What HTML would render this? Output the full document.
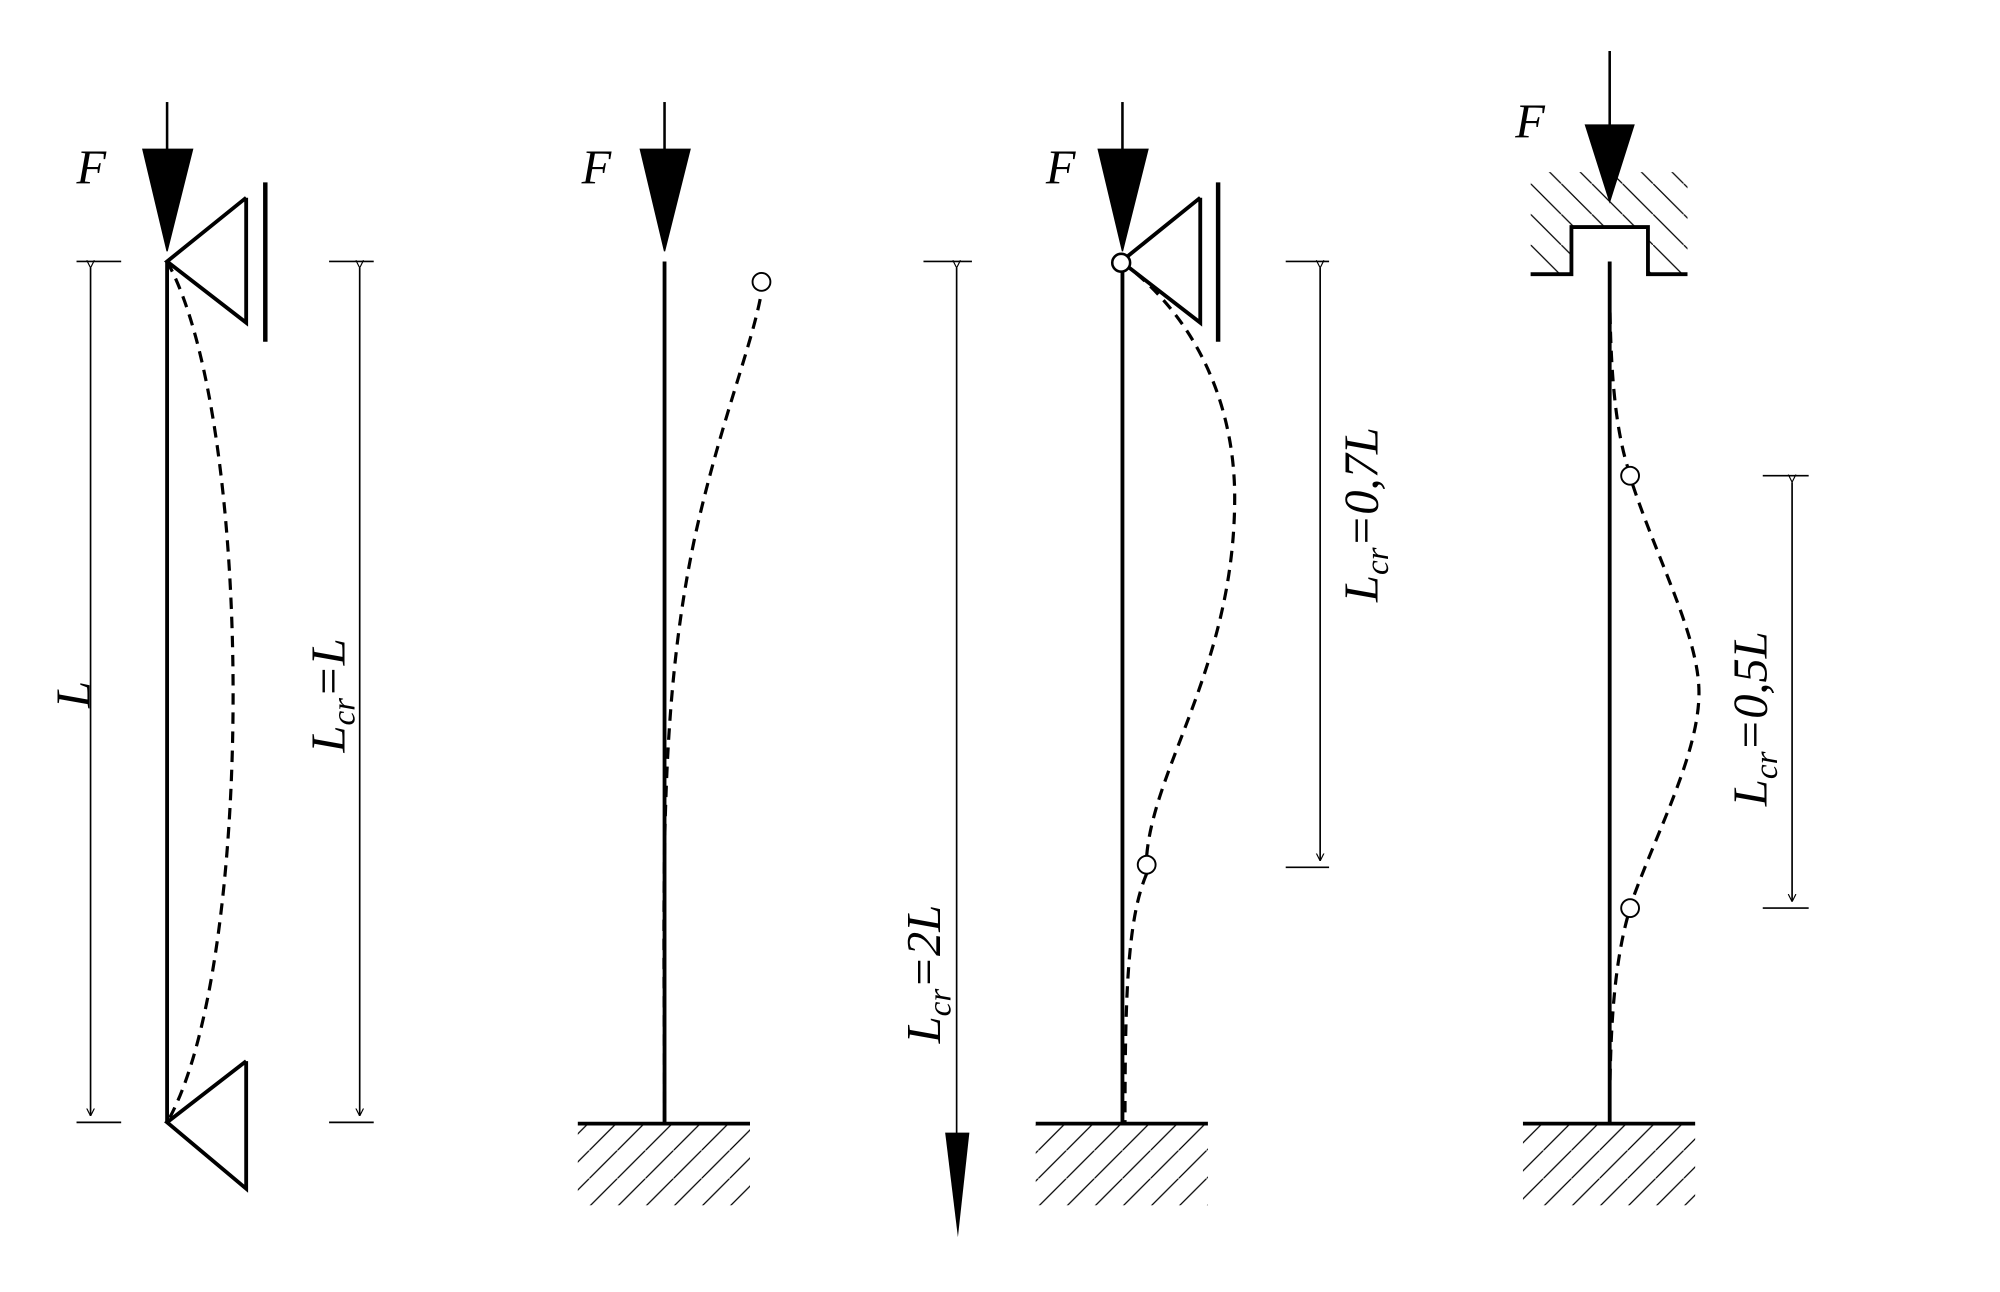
<!DOCTYPE html>
<html><head><meta charset="utf-8"><style>
html,body{margin:0;padding:0;background:#fff}
svg{display:block}
text{font-family:"Liberation Serif",serif;font-style:italic;fill:#000}
</style></head><body>
<svg width="2000" height="1292" viewBox="0 0 1568 1013" preserveAspectRatio="none" xmlns="http://www.w3.org/2000/svg">
<defs>
<marker id="a" viewBox="0 0 10 10" refX="10" refY="5" markerWidth="6" markerHeight="14" orient="auto" markerUnits="userSpaceOnUse"><path d="M0,0 L10,5 L0,10" fill="none" stroke="#000" stroke-width="1.5"/></marker>
<pattern id="h1" patternUnits="userSpaceOnUse" width="22" height="22"><path d="M-2,24 L24,-2" stroke="#000" stroke-width="1"/></pattern>
<pattern id="h2" patternUnits="userSpaceOnUse" width="24" height="24"><path d="M-2,-2 L26,26" stroke="#000" stroke-width="1"/></pattern>
</defs>
<g stroke="#000" fill="none">
<line x1="131" y1="205" x2="131" y2="880" stroke-width="3"/>
<line x1="131" y1="80" x2="131" y2="118" stroke-width="2"/>
<polygon points="112,117 151,117 131,197" fill="#000"/>
<polyline points="193,155 131,205 193,253 193,155" stroke-width="3"/>
<line x1="208" y1="143" x2="208" y2="268" stroke-width="3.5"/>
<polyline points="193,832 131,880 193,932 193,832" stroke-width="3"/>
<path d="M131,205 C200,330 200,760 131,880" stroke-width="2.5" stroke-dasharray="9,6"/>
<line x1="60" y1="205" x2="95" y2="205" stroke-width="1.3"/>
<line x1="60" y1="880" x2="95" y2="880" stroke-width="1.3"/>
<line x1="71" y1="210" x2="71" y2="875" stroke-width="1.3" marker-start="url(#a)" marker-end="url(#a)"/>
<line x1="258" y1="205" x2="293" y2="205" stroke-width="1.3"/>
<line x1="258" y1="880" x2="293" y2="880" stroke-width="1.3"/>
<line x1="282" y1="210" x2="282" y2="875" stroke-width="1.3" marker-start="url(#a)" marker-end="url(#a)"/>
<line x1="521" y1="205" x2="521" y2="880" stroke-width="3"/>
<line x1="521" y1="80" x2="521" y2="118" stroke-width="2"/>
<polygon points="502,117 541,117 521,197" fill="#000"/>
<rect x="453" y="882" width="135" height="63" fill="url(#h1)" stroke="none"/>
<line x1="453" y1="881" x2="588" y2="881" stroke-width="3"/>
<path d="M521,880 C521,700 515,560 545,420 C565,330 590,270 597,229" stroke-width="2.5" stroke-dasharray="9,6"/>
<circle cx="597" cy="221" r="7" fill="#fff" stroke-width="1.5"/>
<line x1="880" y1="205" x2="880" y2="880" stroke-width="3"/>
<line x1="880" y1="80" x2="880" y2="118" stroke-width="2"/>
<polygon points="861,117 900,117 880,197" fill="#000"/>
<polyline points="941,155 879,205 941,253 941,155" stroke-width="3"/>
<line x1="955" y1="143" x2="955" y2="268" stroke-width="3.5"/>
<path d="M879,205 C940,250 968,320 968,390 C968,520 905,600 899,671" stroke-width="2.5" stroke-dasharray="9,6"/>
<path d="M899,685 C884,720 882,780 882,880" stroke-width="2.5" stroke-dasharray="9,6"/>
<circle cx="879" cy="206" r="7" fill="#fff" stroke-width="2"/>
<circle cx="899" cy="678" r="7" fill="#fff" stroke-width="1.5"/>
<rect x="812" y="882" width="135" height="63" fill="url(#h1)" stroke="none"/>
<line x1="812" y1="881" x2="947" y2="881" stroke-width="3"/>
<line x1="1008" y1="205" x2="1042" y2="205" stroke-width="1.3"/>
<line x1="1008" y1="680" x2="1042" y2="680" stroke-width="1.3"/>
<line x1="1035" y1="210" x2="1035" y2="675" stroke-width="1.3" marker-start="url(#a)" marker-end="url(#a)"/>
<line x1="724" y1="205" x2="762" y2="205" stroke-width="1.3"/>
<line x1="750" y1="210" x2="750" y2="890" stroke-width="1.3" marker-start="url(#a)"/>
<polygon points="741,888 760,888 751,970" fill="#000" stroke="none"/>
<line x1="1262" y1="205" x2="1262" y2="880" stroke-width="3"/>
<line x1="1262" y1="40" x2="1262" y2="100" stroke-width="2"/>
<polygon points="1243,98 1281,98 1262,158" fill="#000"/>
<path d="M1200,135 H1323 V215 H1292 V178 H1232 V215 H1200 Z" fill="url(#h2)" stroke="none"/>
<polyline points="1200,215 1232,215 1232,178 1292,178 1292,215 1323,215" stroke-width="3"/>
<path d="M1262,215 C1262,280 1265,330 1276,366" stroke-width="2.5" stroke-dasharray="9,6"/>
<path d="M1280,380 C1300,440 1332,500 1332,543 C1332,590 1300,650 1280,705" stroke-width="2.5" stroke-dasharray="9,6"/>
<path d="M1276,719 C1265,760 1262,810 1262,880" stroke-width="2.5" stroke-dasharray="9,6"/>
<circle cx="1278" cy="373" r="7" fill="#fff" stroke-width="1.5"/>
<circle cx="1278" cy="712" r="7" fill="#fff" stroke-width="1.5"/>
<rect x="1194" y="882" width="135" height="63" fill="url(#h1)" stroke="none"/>
<line x1="1194" y1="881" x2="1329" y2="881" stroke-width="3"/>
<line x1="1382" y1="373" x2="1418" y2="373" stroke-width="1.3"/>
<line x1="1382" y1="712" x2="1418" y2="712" stroke-width="1.3"/>
<line x1="1405" y1="378" x2="1405" y2="707" stroke-width="1.3" marker-start="url(#a)" marker-end="url(#a)"/>
</g>
<g font-size="38">
<text x="60" y="144">F</text>
<text x="456" y="144">F</text>
<text x="820" y="144">F</text>
<text x="1188" y="108">F</text>
<text transform="translate(70,555) rotate(-90)">L</text>
<text transform="translate(270,590) rotate(-90)">L<tspan font-size="26" dy="8">cr</tspan><tspan dy="-8">=L</tspan></text>
<text transform="translate(1080,472) rotate(-90)">L<tspan font-size="26" dy="8">cr</tspan><tspan dy="-8">=0,7L</tspan></text>
<text transform="translate(737,818) rotate(-90)">L<tspan font-size="26" dy="8">cr</tspan><tspan dy="-8">=2L</tspan></text>
<text transform="translate(1385,632) rotate(-90)">L<tspan font-size="26" dy="8">cr</tspan><tspan dy="-8">=0,5L</tspan></text>
</g>
</svg>
</body></html>
